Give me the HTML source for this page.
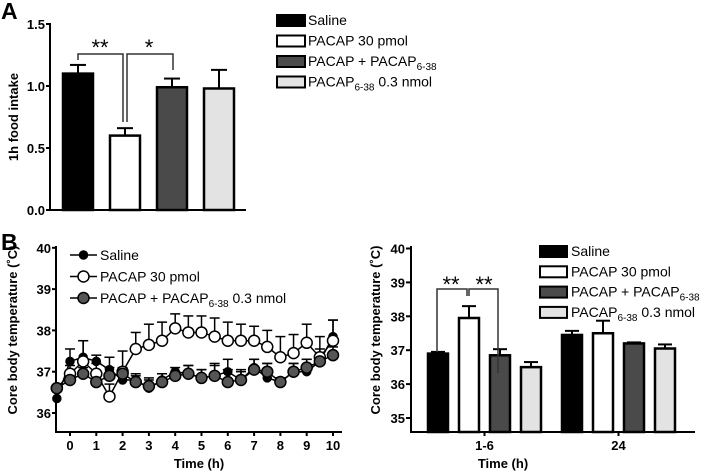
<!DOCTYPE html>
<html><head><meta charset="utf-8"><style>
body{margin:0;background:#fff}
svg{display:block;font-family:"Liberation Sans",Arial,sans-serif}
.t{font-weight:bold;font-size:13px}
.lg{font-size:14px}
</style></head><body>
<svg id="s" width="720" height="472" viewBox="0 0 720 472">
<text x="1" y="19" font-size="23" font-weight="bold">A</text>
<text x="1" y="250" font-size="23" font-weight="bold">B</text>
<text transform="translate(18,117) rotate(-90)" text-anchor="middle" class="t">1h food intake</text>
<text transform="translate(17,330) rotate(-90)" text-anchor="middle" class="t">Core body temperature (˚C)</text>
<text transform="translate(380,330) rotate(-90)" text-anchor="middle" class="t">Core body temperature (˚C)</text>
<g id="ga"></g><g id="gb"></g><g id="gc"></g>
</svg>
<script>
// Panel A data
const aCats=["Saline","PACAP 30 pmol","PACAP + PACAP6-38","PACAP6-38 0.3 nmol"];
const aVals=[1.1,0.6,0.99,0.98];
const aErr=[0.07,0.06,0.07,0.15];
const aTicks=[0.0,0.5,1.0,1.5];
const fills=["#000","#fff","#4a4a4a","#e3e3e3"];
// Panel B line data
const bTimes=[-0.5,0,0.5,1,1.5,2,2.5,3,3.5,4,4.5,5,5.5,6,6.5,7,7.5,8,8.5,9,9.5,10];
const bSaline=[36.35,37.25,37.35,37.25,37.05,36.8,36.8,36.6,36.8,37.0,36.95,36.85,36.9,37.0,36.8,37.1,36.85,36.75,37.0,37.0,37.25,37.85];
const bSalineErr=[0,0.3,0.4,0.15,0.3,0.2,0.15,0.2,0.15,0.1,0.2,0.2,0.3,0.3,0.2,0.2,0.35,0.1,0.2,0.3,0.3,0.4];
const bPacap=[36.6,36.95,37.25,36.95,36.4,37.0,37.55,37.65,37.75,38.05,37.95,37.95,37.85,37.75,37.75,37.75,37.6,37.35,37.45,37.7,37.35,37.75];
const bPacapErr=[0,0.2,0.5,0.25,0.3,0.5,0.4,0.5,0.45,0.35,0.4,0.4,0.45,0.45,0.4,0.35,0.4,0.5,0.45,0.45,0.5,0.5];
const bCombo=[36.6,36.8,36.95,36.75,36.9,36.95,36.75,36.65,36.75,36.9,36.95,36.85,36.9,36.75,36.8,37.05,37.0,36.75,37.0,37.1,37.25,37.4];
const bComboErr=[0,0.15,0.15,0.15,0.2,0.15,0.15,0.2,0.2,0.1,0.2,0.2,0.25,0.3,0.25,0.25,0.2,0.1,0.2,0.2,0.2,0.2];
const bYTicks=[36,37,38,39,40];
const bXTicks=[0,1,2,3,4,5,6,7,8,9,10];
// Panel C data
const cGroups=["1-6","24"];
const cVals=[[36.9,37.95,36.85,36.5],[37.45,37.5,37.2,37.05]];
const cErr=[[0.05,0.35,0.18,0.15],[0.12,0.37,0.03,0.12]];
const cTicks=[35,36,37,38,39,40];

const NS="http://www.w3.org/2000/svg";
function mk(p,tag,at,txt){const e=document.createElementNS(NS,tag);for(const k in at)e.setAttribute(k,at[k]);if(txt!==undefined)e.textContent=txt;p.appendChild(e);return e;}

// ---- Panel A
const ga=document.getElementById('ga');
const ay=v=>210-v*124, ax=i=>63+i*47, abw=30;
mk(ga,'line',{x1:50,y1:23,x2:50,y2:211,stroke:'#000','stroke-width':2});
mk(ga,'line',{x1:49,y1:210,x2:246,y2:210,stroke:'#000','stroke-width':2});
aTicks.forEach(t=>{mk(ga,'line',{x1:46,y1:ay(t),x2:50,y2:ay(t),stroke:'#000','stroke-width':2});
 const e=mk(ga,'text',{x:45,y:ay(t)+5,'text-anchor':'end',class:'t'},t.toFixed(1));
 });
aVals.forEach((v,i)=>{const x=ax(i);
 const b=mk(ga,'rect',{x:x,y:ay(v),width:abw,height:ay(0)-ay(v),fill:fills[i],stroke:'#000','stroke-width':2.5});
 
 const c=x+abw/2,ye=ay(v+aErr[i]);
 mk(ga,'line',{x1:c,y1:ay(v),x2:c,y2:ye,stroke:'#000','stroke-width':2});
 mk(ga,'line',{x1:c-8,y1:ye,x2:c+8,y2:ye,stroke:'#000','stroke-width':2});});
mk(ga,'path',{d:'M78,60 V54 H123 V122',fill:'none',stroke:'#333','stroke-width':1.5});
mk(ga,'path',{d:'M127,122 V54 H173 V70',fill:'none',stroke:'#333','stroke-width':1.5});
mk(ga,'text',{x:100,y:55,'text-anchor':'middle','font-size':22},'**');
mk(ga,'text',{x:149,y:55,'text-anchor':'middle','font-size':22},'*');
const aLeg=[["Saline"],["PACAP 30 pmol"],["PACAP + PACAP","6-38"],["PACAP","6-38"," 0.3 nmol"]];
aLeg.forEach((l,i)=>{const y=20+i*20.5;
 mk(ga,'rect',{x:277,y:y-5,width:28,height:11,fill:fills[i],stroke:'#000','stroke-width':2});
 const t=mk(ga,'text',{x:308,y:y+5,class:'lg'});
 mk(t,'tspan',{},l[0]);if(l[1]){mk(t,'tspan',{dy:4,'font-size':10},l[1]);}if(l[2]){mk(t,'tspan',{dy:-4},l[2]);}});

// ---- Panel B line
const gb=document.getElementById('gb');
const by=v=>413-(v-36)*41.3, bx=t=>70+t*26.3;
mk(gb,'line',{x1:56,y1:246,x2:56,y2:433,stroke:'#000','stroke-width':2});
mk(gb,'line',{x1:55,y1:432,x2:342,y2:432,stroke:'#000','stroke-width':2});
bYTicks.forEach(t=>{mk(gb,'line',{x1:52,y1:by(t),x2:56,y2:by(t),stroke:'#000','stroke-width':2});
 const e=mk(gb,'text',{x:51,y:by(t)+5,'text-anchor':'end',class:'t'},t);
 });
bXTicks.forEach(t=>{mk(gb,'line',{x1:bx(t),y1:432,x2:bx(t),y2:436,stroke:'#000','stroke-width':2});
 const e=mk(gb,'text',{x:bx(t),y:450,'text-anchor':'middle',class:'t'},t);
 });
mk(gb,'text',{x:199,y:468,'text-anchor':'middle',class:'t'},'Time (h)');
const series=[[bSaline,bSalineErr,'#000',4],[bPacap,bPacapErr,'#fff',5.5],[bCombo,bComboErr,'#555',5.5]];
series.forEach(([vals,err,f,r],si)=>{
 vals.forEach((v,i)=>{if(err[i]>0){const c=bx(bTimes[i]),ye=by(v+err[i]);
  mk(gb,'line',{x1:c,y1:by(v),x2:c,y2:ye,stroke:'#000','stroke-width':1.5});
  mk(gb,'line',{x1:c-5,y1:ye,x2:c+5,y2:ye,stroke:'#000','stroke-width':1.5});}});});
series.forEach(([vals,err,f,r],si)=>{
 const p=mk(gb,'polyline',{points:vals.map((v,i)=>bx(bTimes[i])+','+by(v)).join(' '),fill:'none',stroke:'#000','stroke-width':1.5});
 
 vals.forEach((v,i)=>{const c=mk(gb,'circle',{cx:bx(bTimes[i]),cy:by(v),r:r,fill:f,stroke:'#000','stroke-width':1.5});
  });});
const bLeg=[["Saline"],["PACAP 30 pmol"],["PACAP + PACAP","6-38"," 0.3 nmol"]];
bLeg.forEach((l,i)=>{const y=255+i*21.5;
 mk(gb,'line',{x1:70,y1:y,x2:97,y2:y,stroke:'#000','stroke-width':1.5});
 mk(gb,'circle',{cx:83.5,cy:y,r:series[i][3],fill:series[i][2],stroke:'#000','stroke-width':1.5});
 const t=mk(gb,'text',{x:100,y:y+5,class:'lg'});
 mk(t,'tspan',{},l[0]);if(l[1]){mk(t,'tspan',{dy:4,'font-size':10},l[1]);mk(t,'tspan',{dy:-4},l[2]);}});

// ---- Panel C bars
const gc=document.getElementById('gc');
const cy=v=>418-(v-35)*33.9, cbase=432, cbw=20;
const cx=(g,i)=>428+g*134+i*31;
mk(gc,'line',{x1:411,y1:246,x2:411,y2:433,stroke:'#000','stroke-width':2});
mk(gc,'line',{x1:410,y1:432,x2:695,y2:432,stroke:'#000','stroke-width':2});
cTicks.forEach(t=>{mk(gc,'line',{x1:406,y1:cy(t),x2:411,y2:cy(t),stroke:'#000','stroke-width':2});
 const e=mk(gc,'text',{x:405,y:cy(t)+5,'text-anchor':'end',class:'t'},t);
 });
cGroups.forEach((g,gi)=>{const m=(cx(gi,0)+cx(gi,3)+cbw)/2;
 mk(gc,'line',{x1:m,y1:432,x2:m,y2:436,stroke:'#000','stroke-width':2});
 const e=mk(gc,'text',{x:m,y:450,'text-anchor':'middle',class:'t'},g);
 
 cVals[gi].forEach((v,i)=>{const x=cx(gi,i);
  const b=mk(gc,'rect',{x:x,y:cy(v),width:cbw,height:cbase-cy(v),fill:fills[i],stroke:'#000','stroke-width':2.5});
  
  const c=x+cbw/2,ye=cy(v+cErr[gi][i]);
  mk(gc,'line',{x1:c,y1:cy(v),x2:c,y2:ye,stroke:'#000','stroke-width':2});
  mk(gc,'line',{x1:c-7,y1:ye,x2:c+7,y2:ye,stroke:'#000','stroke-width':2});});});
mk(gc,'text',{x:503,y:468,'text-anchor':'middle',class:'t'},'Time (h)');
mk(gc,'path',{d:'M437,352 V289 H467 V296',fill:'none',stroke:'#333','stroke-width':1.5});
mk(gc,'path',{d:'M469,296 V289 H498 V373',fill:'none',stroke:'#333','stroke-width':1.5});
mk(gc,'text',{x:451,y:292,'text-anchor':'middle','font-size':22},'**');
mk(gc,'text',{x:484,y:292,'text-anchor':'middle','font-size':22},'**');
aLeg.forEach((l,i)=>{const y=251+i*20.3;
 mk(gc,'rect',{x:540,y:y-5,width:27,height:11,fill:fills[i],stroke:'#000','stroke-width':2});
 const t=mk(gc,'text',{x:571,y:y+5,class:'lg'});
 mk(t,'tspan',{},l[0]);if(l[1]){mk(t,'tspan',{dy:4,'font-size':10},l[1]);}if(l[2]){mk(t,'tspan',{dy:-4},l[2]);}});
</script>
</body></html>
